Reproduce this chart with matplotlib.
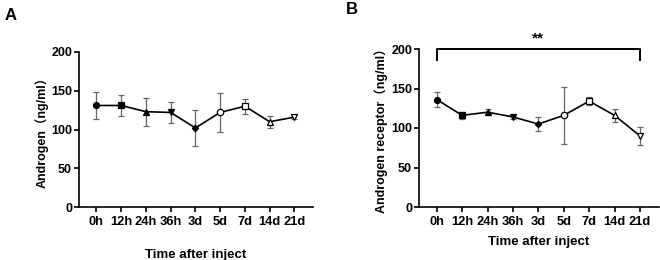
import numpy as np
import matplotlib
matplotlib.use('Agg')
from matplotlib import pyplot as plt

plt.rcParams['font.family'] = ['Liberation Sans', 'Noto Sans CJK SC', 'DejaVu Sans']
plt.rcParams['font.weight'] = 'bold'

# data
times = ['0h', '12h', '24h', '36h', '3d', '5d', '7d', '14d', '21d']
androgen = [131, 131, 123, 122, 102, 122, 130, 110, 116]
androgen_err = [17.5, 14, 18, 13, 23, 25, 10, 8, 3]
receptor = [136, 116, 120, 114, 105, 116, 134, 116, 90]
receptor_err = [9, 4.5, 3.5, 3, 9, 36, 5, 8, 11]

markers = ['o', 's', '^', 'v', 'D', 'o', 's', '^', 'v']
filled = [True, True, True, True, True, False, False, False, False]
msizes = [4.3, 4.3, 4.5, 4.5, 3.2, 4.6, 4.6, 4.8, 4.8]

fig = plt.figure(figsize=(6.6, 2.6), dpi=100)
axA = fig.add_axes([79/660, 53/260, (313-79)/660, 155/260])
axB = fig.add_axes([419/660, 53/260, (659-419)/660, 158/260])


def draw(ax, vals, errs, ylabel, xright):
    x = np.arange(len(times))
    ax.plot(x, vals, color='black', lw=1.2, zorder=2)
    ax.errorbar(x, vals, yerr=errs, fmt='none', ecolor='#666666', elinewidth=0.9,
                capsize=2.3, capthick=0.9, zorder=1)
    for i in range(len(times)):
        ax.plot(x[i], vals[i], marker=markers[i], ms=msizes[i], color='black',
                mfc='black' if filled[i] else 'white', mew=0.9, zorder=3)
    ax.set_xlim(-0.7, xright)
    ax.set_ylim(0, 200)
    ax.set_yticks([0, 50, 100, 150, 200])
    ax.set_xticks(x)
    ax.set_xticklabels(times, fontsize=9.3, fontweight='bold')
    ax.tick_params(axis='y', labelsize=9, width=1.2, length=3.5, pad=1.5)
    ax.tick_params(axis='x', width=1.2, length=3.5, pad=3)
    for lab in ax.get_yticklabels():
        lab.set_fontweight('bold')
    ax.spines['top'].set_visible(False)
    ax.spines['right'].set_visible(False)
    ax.spines['left'].set_linewidth(1.2)
    ax.spines['bottom'].set_linewidth(1.2)
    ax.set_ylabel(ylabel, fontsize=9, fontweight='bold', labelpad=2)


draw(axA, androgen, androgen_err, 'Androgen（ng/ml）', 8.75)
axA.set_xlabel('Time after inject', fontsize=9.5, fontweight='bold', labelpad=15)

draw(axB, receptor, receptor_err, 'Androgen receptor（ng/ml）', 8.75)
axB.set_xlabel('Time after inject', fontsize=9.5, fontweight='bold', labelpad=6)

# significance bracket
axB.plot([0, 0, 8, 8], [186, 200, 200, 186], color='black', lw=1.4, clip_on=False)
axB.text(4, 204, '**', ha='center', va='bottom', fontsize=11, fontweight='bold')

fig.text(5/660, 1 - 15/260, 'A', fontsize=12, fontweight='bold', va='center')
fig.text(346/660, 1 - 10/260, 'B', fontsize=12, fontweight='bold', va='center')

fig.savefig('out.png', dpi=100)
